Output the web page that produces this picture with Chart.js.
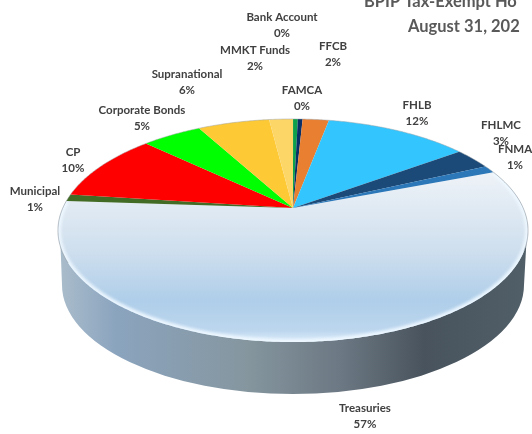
<!DOCTYPE html>
<html>
<head>
<meta charset="utf-8">
<script src="https://cdn.jsdelivr.net/npm/chart.js@4"></script>
<style>
  html, body { margin: 0; padding: 0; background: #fff; overflow: hidden; }
  canvas { display: block; }
</style>
</head>
<body>
<canvas id="pie" width="532" height="434"></canvas>
<script>
// clockwise, starting at the right hand edge of the big slice
const categories = ["Treasuries", "Municipal", "CP", "Corporate Bonds", "Supranational", "MMKT Funds",
  "Bank Account", "FAMCA", "FFCB", "FHLB", "FHLMC", "FNMA"];
const holdings = [57, 1, 10, 5, 6, 2, 0.4, 0.4, 2.2, 12, 3.1, 1.1];
const sliceColors = ["#cfe0ef", "#426b26", "#ff0000", "#00ff00", "#fdc935", "#fdd668",
  "#0ea04a", "#0a2f66", "#e97f31", "#33c5fe", "#1c4a78", "#2b77b8"];
const titleLines = ["BPIP Tax-Exempt Ho", "August 31, 202"];

// label centres, same order as categories
const labelX = [365, 35, 73, 142, 187, 255, 282, 302, 333, 417, 501, 515];
const labelY = [408, 191, 152, 110, 74, 50, 17, 90, 46, 105, 125, 149];

// perspective of the tilted disc: unit circle -> screen
const tilt = { cx: 293, apexY: 208, a: 230.2, b: 107, p: -0.2018 };

function project(angle) {
  const u = Math.cos(angle), v = Math.sin(angle);
  const w = 1 + tilt.p * v;
  return [tilt.cx + tilt.a * u / w, tilt.apexY + tilt.b * v / w];
}

function tracePath(ctx, start, end, withApex) {
  const steps = Math.max(2, Math.ceil((end - start) / 0.01));
  ctx.beginPath();
  if (withApex) ctx.moveTo(tilt.cx, tilt.apexY);
  for (let i = 0; i <= steps; i++) {
    const pt = project(start + (end - start) * i / steps);
    ctx.lineTo(pt[0], pt[1]);
  }
  if (withApex) ctx.closePath();
}

class TiltArc extends Chart.ArcElement {
  static id = "tiltArc";
  draw(ctx) {
    const { startAngle, endAngle } = this.getProps(["startAngle", "endAngle"], true);
    ctx.save();
    tracePath(ctx, startAngle, endAngle, true);
    ctx.fillStyle = this.options.backgroundColor;
    ctx.fill();
    ctx.restore();
  }
}

class TiltPie extends Chart.PieController {
  static id = "tiltPie";
  static defaults = { dataElementType: "tiltArc" };
}
Chart.register(TiltArc, TiltPie);

const pieSides = {
  id: "pieSides",
  beforeDatasetsDraw(chart) {
    const ctx = chart.ctx;
    const g = ctx.createLinearGradient(60, 0, 527, 0);
    g.addColorStop(0, "#a9bccb");
    g.addColorStop(0.12, "#8ba4be");
    g.addColorStop(0.4, "#85969f");
    g.addColorStop(0.6, "#6c7883");
    g.addColorStop(0.78, "#48535d");
    g.addColorStop(1, "#515f68");
    ctx.save();
    ctx.fillStyle = g;
    ctx.beginPath();
    ctx.moveTo(60, 232);
    ctx.lineTo(527, 232);
    ctx.lineTo(524, 285);
    ctx.ellipse(293, 285, 231, 109, 0, 0, Math.PI);
    ctx.closePath();
    ctx.fill();
    ctx.restore();
  }
};

const pieFinish = {
  id: "pieFinish",
  afterDatasetsDraw(chart) {
    const ctx = chart.ctx;
    const big = chart.getDatasetMeta(0).data[0];

    // soft bevel round the big slice
    ctx.save();
    tracePath(ctx, big.startAngle, big.endAngle, true);
    ctx.clip();
    ctx.filter = "blur(1.5px)";
    ctx.strokeStyle = "rgba(238,248,255,0.95)";
    ctx.lineWidth = 6;
    tracePath(ctx, big.startAngle, big.endAngle, false);
    ctx.stroke();
    ctx.restore();

    ctx.save();
    ctx.strokeStyle = "rgba(130,140,150,0.55)";
    ctx.lineWidth = 1;
    tracePath(ctx, big.startAngle, big.startAngle + 0.75, false);
    ctx.stroke();
    tracePath(ctx, big.endAngle - 0.55, big.endAngle, false);
    ctx.stroke();
    tracePath(ctx, big.endAngle, big.startAngle + Math.PI * 2, false);
    ctx.strokeStyle = "rgba(160,165,170,0.5)";
    ctx.stroke();
    ctx.restore();

    // data labels
    const total = holdings.reduce((s, v) => s + v, 0);
    ctx.save();
    ctx.textAlign = "center";
    ctx.textBaseline = "middle";
    ctx.fillStyle = "#404040";
    ctx.font = "bold 11.5px Lato";
    categories.forEach((name, i) => {
      ctx.fillText(name, labelX[i], labelY[i]);
      ctx.fillText(Math.round(holdings[i] / total * 100) + "%", labelX[i], labelY[i] + 16.5);
    });

    // title runs off the top right of the picture
    ctx.textAlign = "left";
    ctx.textBaseline = "alphabetic";
    ctx.fillStyle = "#595959";
    ctx.font = "bold 16.5px Lato";
    ctx.fillText(titleLines[0], 364, 7);
    ctx.fillText(titleLines[1], 408, 32);
    ctx.restore();
  }
};

new Chart(document.getElementById("pie"), {
  type: "tiltPie",
  data: {
    labels: categories,
    datasets: [{
      data: holdings,
      backgroundColor: (c) => {
        if (c.dataIndex !== 0) return sliceColors[c.dataIndex];
        const g = c.chart.ctx.createLinearGradient(0, 175, 0, 342);
        g.addColorStop(0, "#edf2f7");
        g.addColorStop(0.45, "#cfdfee");
        g.addColorStop(0.75, "#afcee9");
        g.addColorStop(0.93, "#bcd6ee");
        g.addColorStop(1, "#dcecfa");
        return g;
      },
      borderWidth: 0
    }]
  },
  options: {
    responsive: false,
    animation: false,
    rotation: 69,
    plugins: { legend: { display: false }, tooltip: { enabled: false } }
  },
  plugins: [pieSides, pieFinish]
});
</script>
</body>
</html>
